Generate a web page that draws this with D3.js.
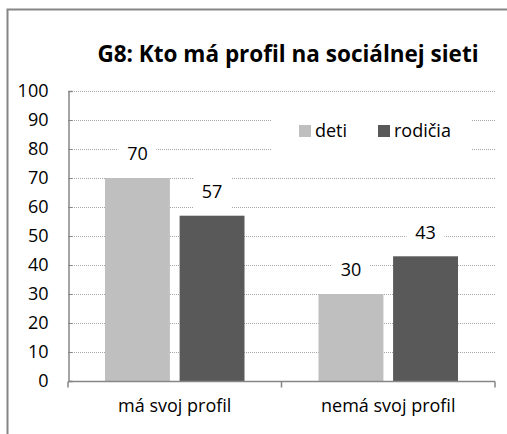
<!DOCTYPE html>
<html>
<head>
<meta charset="utf-8">
<script src="https://cdn.jsdelivr.net/npm/d3@7"></script>
<style>
  body { margin: 0; background: #fff; }
  svg text { font-family: "Open Sans", "Liberation Sans", sans-serif; fill: #000; }
</style>
</head>
<body>
<div id="chart"></div>
<script>
const categories = ["má svoj profil", "nemá svoj profil"];
const seriesNames = ["deti", "rodičia"];
const deti = [70, 30];
const rodicia = [57, 43];
const yTicks = [0, 10, 20, 30, 40, 50, 60, 70, 80, 90, 100];
const colors = ["#bfbfbf", "#595959"];

let chart = {
    width: 507,
    height: 434,
    left: 68,
    right: 495,
    top: 91,
    bottom: 381
};

var svg = d3.select("#chart")
    .append("svg")
    .attr("width", chart.width)
    .attr("height", chart.height);

// outer frame (only top and left visible in the crop)
svg.append("path")
    .attr("d", "M7.5," + chart.height + "V9.5H" + chart.width)
    .attr("fill", "none")
    .attr("stroke", "#868686")
    .attr("stroke-width", 2);

var x0 = d3.scaleBand()
    .domain(categories)
    .range([chart.left, chart.right])
    .paddingInner(0)
    .paddingOuter(0);

var x1 = d3.scaleBand()
    .domain(seriesNames)
    .range([37, x0.bandwidth() - 37])
    .paddingInner(0.13);

var y = d3.scaleLinear()
    .domain([0, 100])
    .range([chart.bottom, chart.top]);

// gridlines
svg.append("g")
    .selectAll("line")
    .data(yTicks.filter(d => d > 0))
    .enter()
    .append("line")
    .attr("x1", chart.left)
    .attr("x2", chart.right)
    .attr("y1", d => Math.round(y(d)) + 0.5)
    .attr("y2", d => Math.round(y(d)) + 0.5)
    .attr("stroke", "#a6a6a6")
    .attr("stroke-width", 1)
    .attr("stroke-dasharray", "1,1");

// y axis
var yaxis = d3.axisLeft(y)
    .tickValues(yTicks)
    .tickSize(-4)
    .tickPadding(20);

svg.append("g")
    .attr("transform", "translate(" + (chart.left + 0.5) + ",0)")
    .call(yaxis)
    .call(g => g.select(".domain").attr("stroke", "#868686").attr("stroke-width", 1.5))
    .call(g => g.selectAll(".tick line").attr("stroke", "#868686"))
    .call(g => g.selectAll("text").style("font-size", "18px").attr("fill", "#000"));

// bars
var data = categories.map((c, i) => ({
    cat: c,
    values: [{ key: "deti", value: deti[i] }, { key: "rodičia", value: rodicia[i] }]
}));

var groups = svg.append("g")
    .selectAll("g")
    .data(data)
    .enter()
    .append("g")
    .attr("transform", d => "translate(" + x0(d.cat) + ",0)");

groups.selectAll("rect")
    .data(d => d.values)
    .enter()
    .append("rect")
    .attr("x", d => x1(d.key))
    .attr("width", x1.bandwidth())
    .attr("y", d => y(d.value))
    .attr("height", d => y(0) - y(d.value))
    .attr("fill", (d, i) => colors[i]);

// data labels with white boxes
var labels = groups.selectAll(".lbl")
    .data(d => d.values)
    .enter()
    .append("g")
    .attr("class", "lbl")
    .attr("transform", d => "translate(" + (x1(d.key) + x1.bandwidth() / 2) + "," + (y(d.value) - 24) + ")");

labels.append("rect")
    .attr("x", -19)
    .attr("y", -17)
    .attr("width", 38)
    .attr("height", 34)
    .attr("fill", "#fff");

labels.append("text")
    .attr("text-anchor", "middle")
    .attr("dy", "0.35em")
    .style("font-size", "18px")
    .text(d => d.value);

// x axis
var xaxis = d3.axisBottom(x0)
    .tickSize(0)
    .tickPadding(18);

var xg = svg.append("g")
    .attr("transform", "translate(0," + (chart.bottom + 0.5) + ")")
    .call(xaxis)
    .call(g => g.select(".domain").remove())
    .call(g => g.selectAll("text").style("font-size", "18px").attr("fill", "#000"));

xg.append("line")
    .attr("x1", chart.left)
    .attr("x2", chart.right)
    .attr("stroke", "#868686")
    .attr("stroke-width", 1.5);

xg.selectAll(".sep")
    .data([chart.left, x0(categories[1]), chart.right])
    .enter()
    .append("line")
    .attr("class", "sep")
    .attr("x1", d => d)
    .attr("x2", d => d)
    .attr("y1", 0)
    .attr("y2", 6)
    .attr("stroke", "#868686")
    .attr("stroke-width", 1.5);

// legend
var legend = svg.append("g");

legend.append("rect")
    .attr("x", 271)
    .attr("y", 110)
    .attr("width", 201)
    .attr("height", 46)
    .attr("fill", "#fff");

var items = legend.selectAll(".item")
    .data(seriesNames)
    .enter()
    .append("g")
    .attr("class", "item")
    .attr("transform", (d, i) => "translate(" + [299, 378][i] + ",125)");

items.append("rect")
    .attr("width", 12)
    .attr("height", 12)
    .attr("fill", (d, i) => colors[i]);

items.append("text")
    .attr("x", 16)
    .attr("y", 6)
    .attr("dy", "0.35em")
    .style("font-size", "18px")
    .text(d => d);

// title
svg.append("text")
    .attr("x", 288)
    .attr("y", 62)
    .attr("text-anchor", "middle")
    .style("font-size", "22.5px")
    .style("font-weight", "bold")
    .text("G8: Kto má profil na sociálnej sieti");
</script>
</body>
</html>
